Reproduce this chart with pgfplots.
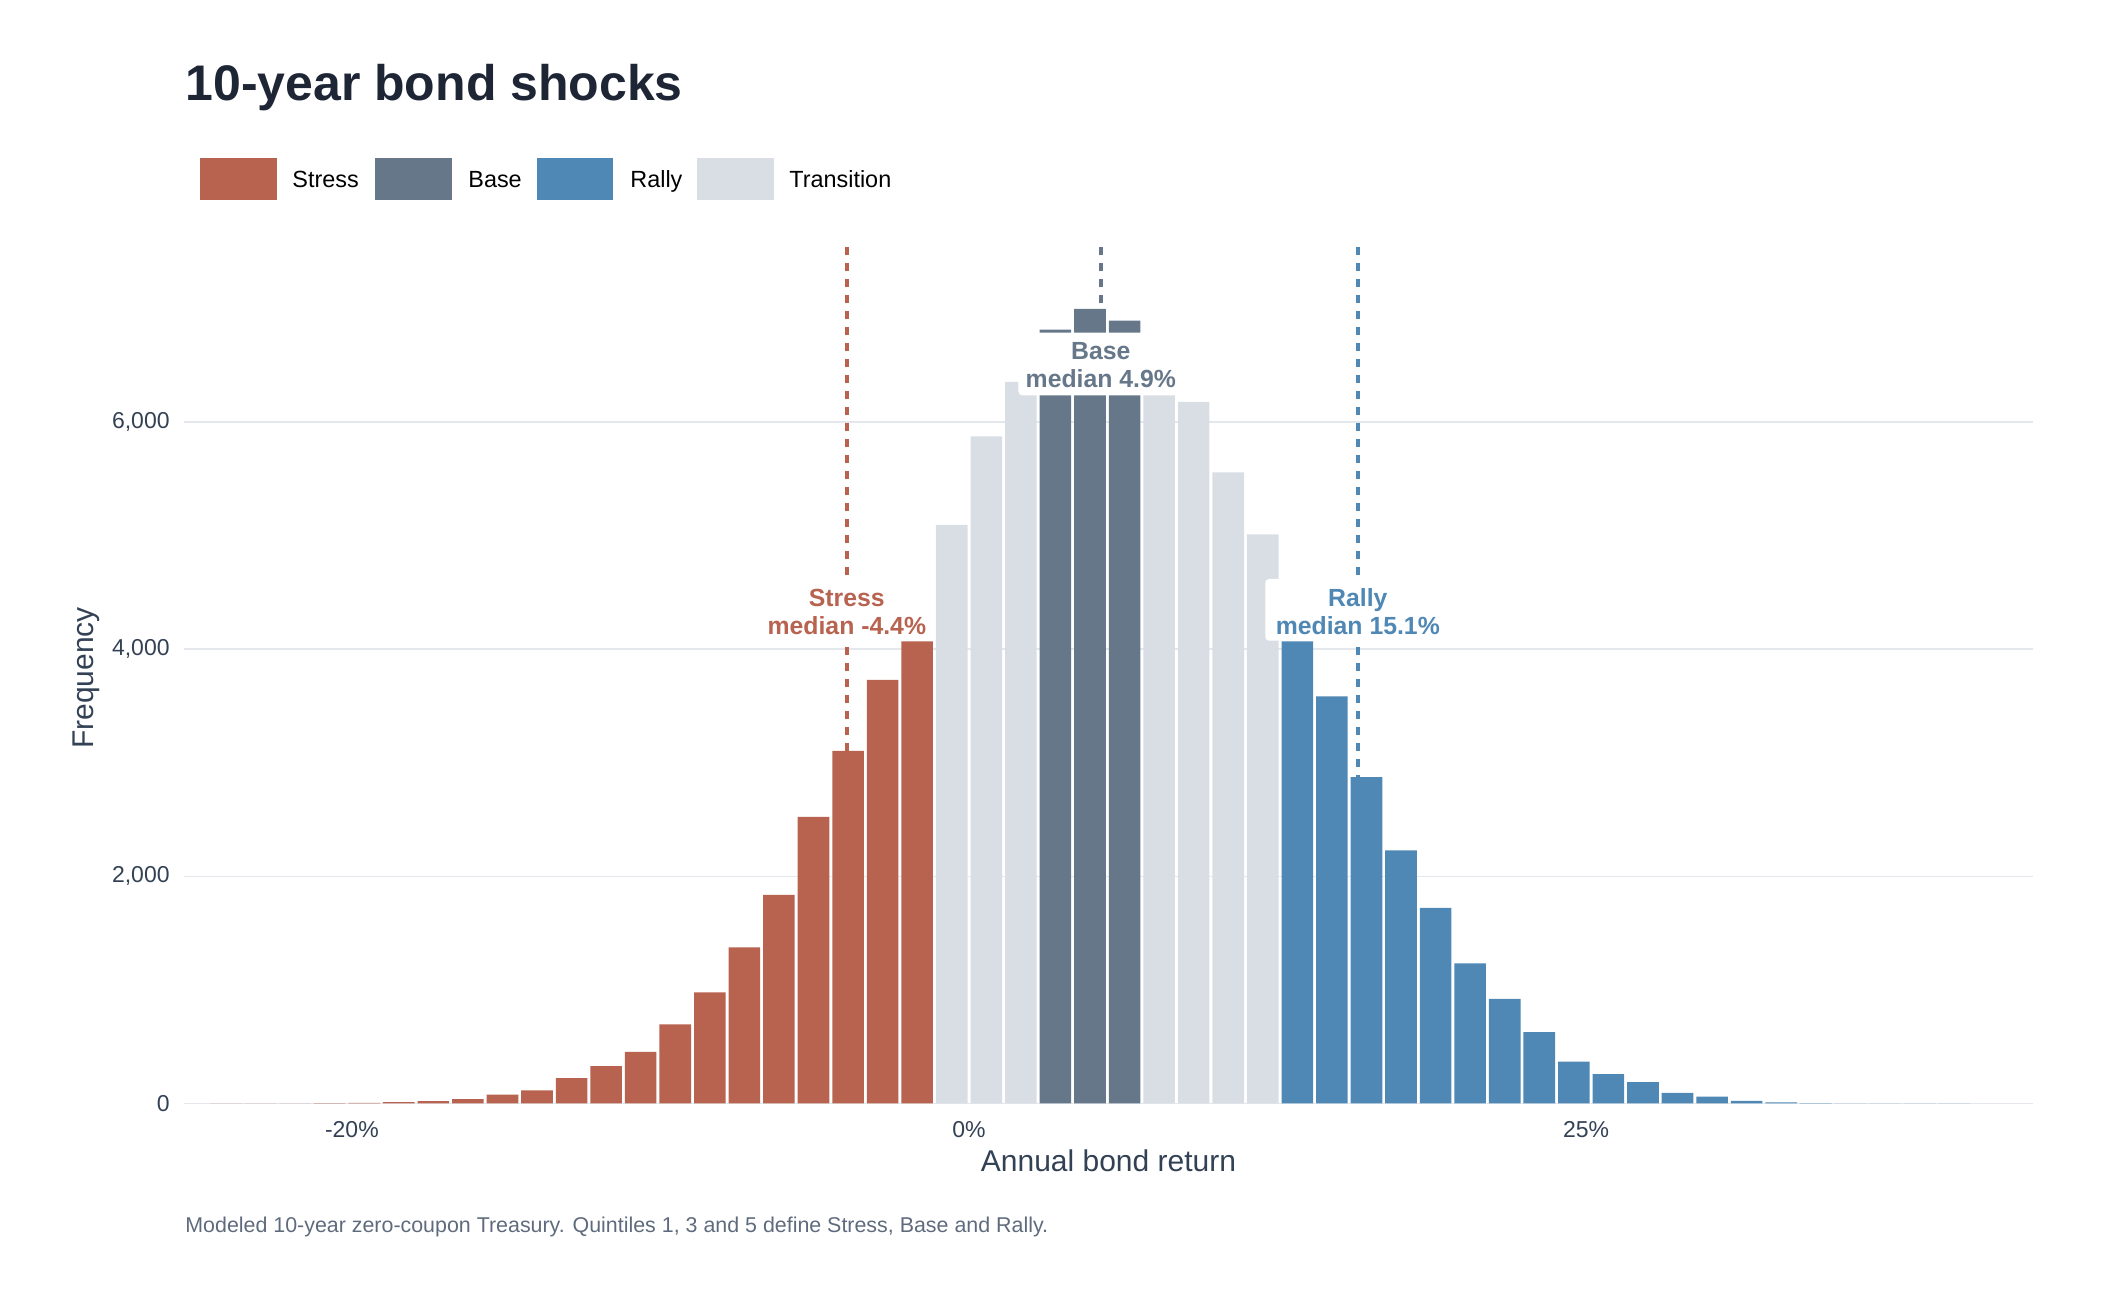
\documentclass[border=0pt]{standalone}
\usepackage{fontspec}
\setmainfont{Liberation Sans}
\usepackage{pgfplots}
\pgfplotsset{compat=1.18}
\usepackage{pgfplotstable}

\definecolor{stress}{HTML}{B86350}
\definecolor{base}{HTML}{66778A}
\definecolor{rally}{HTML}{4F87B5}
\definecolor{trans}{HTML}{D9DEE5}
\definecolor{ink}{HTML}{1E2636}
\definecolor{slate}{HTML}{334155}
\definecolor{muted}{HTML}{5F6B7D}
\definecolor{gridc}{HTML}{E4E7EC}

% bin centres (bins 1.4 wide), counts
\pgfplotstableread{
x y
-30.1 1
-28.7 1
-27.3 2
-25.9 3
-24.5 5
-23.1 12
-21.7 21
-20.3 38
-18.9 79
-17.5 115
-16.1 223
-14.7 329
-13.3 455
-11.9 696
-10.5 978
-9.1 1374
-7.7 1838
-6.3 2523
-4.9 3105
-3.5 3730
-2.1 4070
}\stressdata

\pgfplotstableread{
x y
-0.7 5095
0.7 5875
2.1 6354
7.7 6560
9.1 6178
10.5 5557
11.9 5011
}\transdata

\pgfplotstableread{
x y
3.5 6815
4.9 6997
6.3 6894
}\basedata

\pgfplotstableread{
x y
13.3 4070
14.7 3585
16.1 2874
17.5 2230
18.9 1723
20.3 1233
21.7 921
23.1 629
24.5 368
25.9 258
27.3 189
28.7 94
30.1 60
31.5 22
32.9 10
34.3 4
35.7 2
37.1 1
38.5 1
39.9 1
}\rallydata

\pgfplotsset{
  hbar/.style={ybar, bar width=1.28, bar shift=0pt, draw=none},
  medline/.style={line width=2pt, dash pattern=on 4pt off 4pt},
}
\tikzset{
  medlabel/.style={font=\bfseries\fontsize{12.4}{14}\selectfont, align=center, inner sep=0pt},
}

\begin{document}
\begin{tikzpicture}
\useasboundingbox (0,0) rectangle (1053pt,648pt);

% title
\node[anchor=base west, inner sep=0pt, text=ink, font=\bfseries\fontsize{25}{30}\selectfont]
  at (92.5pt,597.5pt) {10-year bond shocks};

% legend
\fill[stress] (100pt,548pt) rectangle (138.25pt,569pt);
\node[anchor=base west, inner sep=0pt, font=\fontsize{11.7}{14}\selectfont] at (146pt,554.3pt) {Stress};
\fill[base] (187.5pt,548pt) rectangle (225.75pt,569pt);
\node[anchor=base west, inner sep=0pt, font=\fontsize{11.7}{14}\selectfont] at (234pt,554.3pt) {Base};
\fill[rally] (268.5pt,548pt) rectangle (306.5pt,569pt);
\node[anchor=base west, inner sep=0pt, font=\fontsize{11.7}{14}\selectfont] at (315pt,554.3pt) {Rally};
\fill[trans] (348.5pt,548pt) rectangle (386.75pt,569pt);
\node[anchor=base west, inner sep=0pt, font=\fontsize{11.7}{14}\selectfont] at (394.5pt,554.3pt) {Transition};

\begin{axis}[
  at={(92pt,96.25pt)}, anchor=south west,
  scale only axis, width=924.5pt, height=429.25pt,
  xmin=-31.8, xmax=43.1, ymin=0, ymax=7560,
  axis line style={draw=none}, major tick length=0pt,
  xtick={-25,0,25}, xticklabels={-20\%,0\%,25\%},
  ytick={0,2000,4000,6000},
  ymajorgrids, grid style={gridc, line width=0.8pt},
  /pgf/number format/1000 sep={,},
  /pgf/number format/assume math mode=true,
  xticklabel style={anchor=center, yshift=-13.25pt, font=\fontsize{11.5}{14}\selectfont, text=slate},
  yticklabel style={anchor=east, inner sep=0pt, xshift=-7pt, font=\fontsize{11.5}{14}\selectfont, text=slate},
  xlabel={Annual bond return},
  xlabel style={at={(axis description cs:0.5,-0.0665)}, anchor=center, font=\fontsize{15}{18}\selectfont, text=slate},
  ylabel={Frequency},
  ylabel style={at={(axis description cs:-0.053,0.4956)}, anchor=center, font=\fontsize{15}{18}\selectfont, text=slate},
]
% median lines, behind the bars
\addplot[stress, medline] coordinates {(-4.95,0) (-4.95,7560)};
\addplot[base, medline] coordinates {(5.34,0) (5.34,7560)};
\addplot[rally, medline] coordinates {(15.75,0) (15.75,7560)};

\addplot[hbar, fill=stress] table {\stressdata};
\addplot[hbar, fill=trans] table {\transdata};
\addplot[hbar, fill=base] table {\basedata};
\addplot[hbar, fill=rally] table {\rallydata};

% median labels
\fill[white, rounded corners=2pt] (axis cs:-8.43,4075) rectangle (axis cs:-1.47,4620);
\node[medlabel, text=stress] at (axis cs:-4.95,4328) {Stress\\median -4.4\%};
\fill[white, rounded corners=2pt] (axis cs:2.0,6236) rectangle (axis cs:8.45,6788);
\node[medlabel, text=base] at (axis cs:5.34,6506) {Base\\median 4.9\%};
\fill[white, rounded corners=2pt] (axis cs:12.0,4075) rectangle (axis cs:19.45,4620);
\node[medlabel, text=rally] at (axis cs:15.75,4328) {Rally\\median 15.1\%};
\end{axis}

% caption
\node[anchor=base west, inner sep=0pt, text=muted, font=\fontsize{10.7}{13}\selectfont]
  at (92.5pt,31.75pt) {Modeled 10-year zero-coupon Treasury. Quintiles 1, 3 and 5 define Stress, Base and Rally.};
\end{tikzpicture}
\end{document}
